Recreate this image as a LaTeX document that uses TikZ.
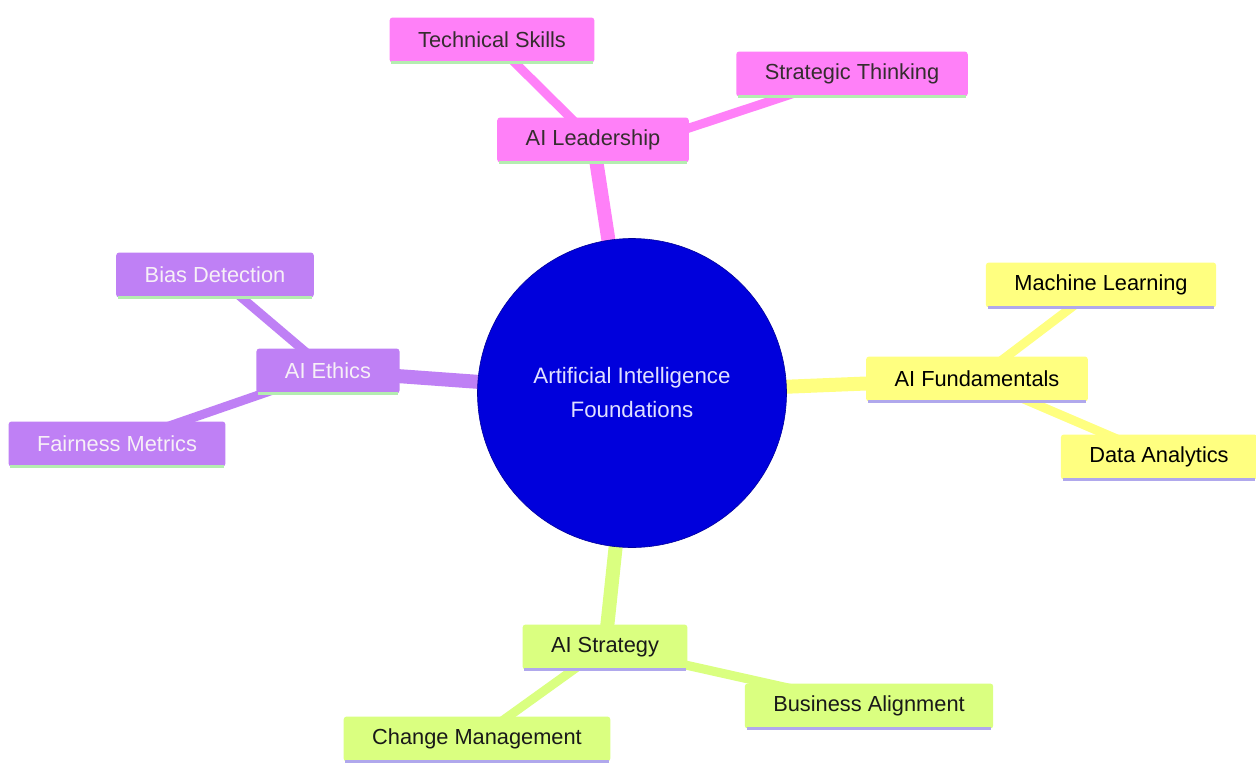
\documentclass[tikz,border=0pt]{standalone}
\usepackage{fontspec}
\setmainfont{Liberation Sans}
\usepackage{tikz}
\usetikzlibrary{backgrounds}
\definecolor{rootblue}{HTML}{0000DC}
\definecolor{leadpink}{HTML}{FF80F8}
\definecolor{ethicpurple}{HTML}{BF80F5}
\definecolor{fundyellow}{HTML}{FFFF80}
\definecolor{stratgreen}{HTML}{DAFF80}
\definecolor{edgegreen}{HTML}{B4EDB0}
\definecolor{edgelavender}{HTML}{B0A8EC}

\tikzset{
  mmbox/.style={rectangle,rounded corners=3pt,inner xsep=28.5pt,minimum height=45pt,
    font=\fontsize{21.8}{26}\selectfont},
  pinkbox/.style={mmbox,fill=leadpink,text=black!92!magenta,
    append after command={(\tikzlastnode.south west) ++(2pt,0) edge[edgegreen,line width=2.5pt] ([xshift=-2pt]\tikzlastnode.south east)}},
  purplebox/.style={mmbox,fill=ethicpurple,text=white!94!violet,
    append after command={(\tikzlastnode.south west) ++(2pt,0) edge[edgegreen,line width=2.5pt] ([xshift=-2pt]\tikzlastnode.south east)}},
  yellowbox/.style={mmbox,fill=fundyellow,text=black,
    append after command={(\tikzlastnode.south west) ++(2pt,0) edge[edgelavender,line width=2.5pt] ([xshift=-2pt]\tikzlastnode.south east)}},
  greenbox/.style={mmbox,fill=stratgreen,text=black!90,
    append after command={(\tikzlastnode.south west) ++(2pt,0) edge[edgelavender,line width=2.5pt] ([xshift=-2pt]\tikzlastnode.south east)}},
  trunk/.style={line width=14pt},
  branch/.style={line width=9pt}
}

\begin{document}
\begin{tikzpicture}[x=1pt,y=-1pt]
\useasboundingbox (0,0) rectangle (1256,763);

% root
\node[circle,fill=rootblue,draw=rootblue!70!black,line width=0.6pt,minimum size=309pt,
  text=white!88!blue,align=center,font=\fontsize{22.3}{34}\selectfont] (root) at (632,393)
  {Artificial Intelligence\\Foundations};

% main branches
\node[pinkbox] (lead) at (593,140) {AI Leadership};
\node[purplebox] (ethics) at (328,371) {AI Ethics};
\node[yellowbox] (fund) at (977,379) {AI Fundamentals};
\node[greenbox] (strat) at (605,647) {AI Strategy};

% leaves
\node[pinkbox] (tech) at (492,40) {Technical Skills};
\node[pinkbox] (think) at (852,74) {Strategic Thinking};
\node[purplebox] (bias) at (215,275) {Bias Detection};
\node[purplebox] (fair) at (117,444) {Fairness Metrics};
\node[yellowbox] (ml) at (1101,285) {Machine Learning};
\node[yellowbox] (data) at (1159,457) {Data Analytics};
\node[greenbox] (biz) at (869,706) {Business Alignment};
\node[greenbox] (change) at (477,739) {Change Management};

\begin{pgfonlayer}{background}
\fill[white] (0,0) rectangle (1256,763);
\draw[trunk,leadpink] (root.center) -- (lead.center);
\draw[trunk,ethicpurple] (root.center) -- (ethics.center);
\draw[trunk,fundyellow] (root.center) -- (fund.center);
\draw[trunk,stratgreen] (root.center) -- (strat.center);
\draw[branch,leadpink] (lead.center) -- (tech.center);
\draw[branch,leadpink] ([xshift=60pt]lead.center) -- (think.center);
\draw[branch,ethicpurple] (ethics.center) -- (bias.center);
\draw[branch,ethicpurple] (ethics.center) -- (fair.center);
\draw[branch,fundyellow] (fund.center) -- (ml.center);
\draw[branch,fundyellow] (fund.center) -- (data.center);
\draw[branch,stratgreen] (strat.center) -- (biz.center);
\draw[branch,stratgreen] (strat.center) -- (change.center);
\end{pgfonlayer}
\end{tikzpicture}
\end{document}
